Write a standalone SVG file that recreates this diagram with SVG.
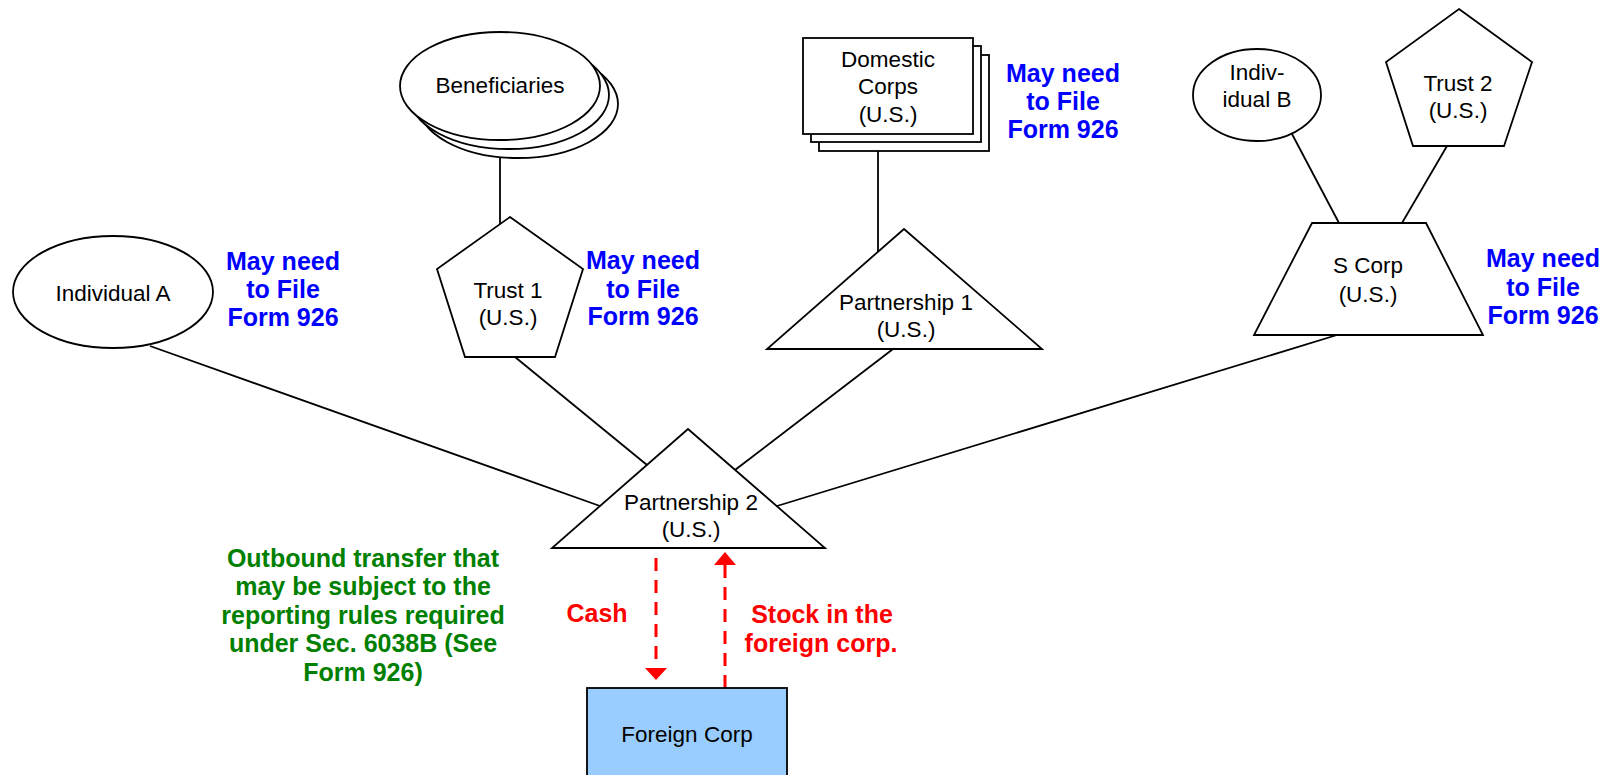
<svg xmlns="http://www.w3.org/2000/svg" width="1604" height="775" viewBox="0 0 1604 775">
<style>
.s{fill:#fff;stroke:#000;stroke-width:1.8}
.c{stroke:#000;stroke-width:1.8;fill:none}
.t{font-family:"Liberation Sans",Arial,sans-serif;font-size:22.5px;fill:#000;text-anchor:middle}
.b{font-family:"Liberation Sans",Arial,sans-serif;font-size:25px;font-weight:bold;fill:#0000ff;text-anchor:middle}
.g{font-family:"Liberation Sans",Arial,sans-serif;font-size:25px;font-weight:bold;fill:#008000;text-anchor:middle}
.r{font-family:"Liberation Sans",Arial,sans-serif;font-size:25px;font-weight:bold;fill:#ff0000;text-anchor:middle}
.d{stroke:#ff0000;stroke-width:3;stroke-dasharray:13 9;fill:none}
.ah{fill:#ff0000}
</style>
<rect width="1604" height="775" fill="#fff"/>
<g id="connectors">
<line class="c" x1="500" y1="158" x2="500" y2="224"/>
<line class="c" x1="878" y1="151" x2="878" y2="252"/>
<line class="c" x1="1292" y1="134" x2="1339" y2="223"/>
<line class="c" x1="1447" y1="146" x2="1402" y2="223"/>
<line class="c" x1="150" y1="346" x2="600" y2="506"/>
<line class="c" x1="515" y1="357" x2="647" y2="465"/>
<line class="c" x1="893" y1="349" x2="735" y2="470"/>
<line class="c" x1="1337" y1="335" x2="777" y2="506"/>
<line class="d" x1="656" y1="558" x2="656" y2="668"/>
<polygon class="ah" points="645,668 667,668 656,680"/>
<line class="d" x1="725" y1="688" x2="725" y2="565"/>
<polygon class="ah" points="714,565 736,565 725,552"/>
</g>
<g id="individual-a">
<ellipse class="s" cx="113" cy="292" rx="100" ry="56"/>
<text class="t" x="113" y="301">Individual A</text>
</g>
<g id="beneficiaries">
<ellipse class="s" cx="518" cy="104" rx="100" ry="54"/>
<ellipse class="s" cx="509" cy="95" rx="100" ry="54"/>
<ellipse class="s" cx="500" cy="86" rx="100" ry="54"/>
<text class="t" x="500" y="93">Beneficiaries</text>
</g>
<g id="trust-1">
<polygon class="s" points="510,217 583,269 555,357 465,357 437,269"/>
<text class="t" x="508" y="298">Trust 1</text>
<text class="t" x="508" y="325">(U.S.)</text>
</g>
<g id="domestic-corps">
<rect class="s" x="819" y="55" width="170" height="96"/>
<rect class="s" x="811" y="46" width="170" height="96"/>
<rect class="s" x="803" y="38" width="170" height="96"/>
<text class="t" x="888" y="67">Domestic</text>
<text class="t" x="888" y="94">Corps</text>
<text class="t" x="888" y="122">(U.S.)</text>
</g>
<g id="partnership-1">
<polygon class="s" points="904,229 1042,349 767,349"/>
<text class="t" x="906" y="310">Partnership 1</text>
<text class="t" x="906" y="337">(U.S.)</text>
</g>
<g id="individual-b">
<ellipse class="s" cx="1257" cy="95" rx="64" ry="46"/>
<text class="t" x="1257" y="80">Indiv-</text>
<text class="t" x="1257" y="107">idual B</text>
</g>
<g id="trust-2">
<polygon class="s" points="1459,9 1532,62 1504,146 1413,146 1386,62"/>
<text class="t" x="1458" y="91">Trust 2</text>
<text class="t" x="1458" y="118">(U.S.)</text>
</g>
<g id="s-corp">
<polygon class="s" points="1312,223 1426,223 1483,335 1254,335"/>
<text class="t" x="1368" y="273">S Corp</text>
<text class="t" x="1368" y="302">(U.S.)</text>
</g>
<g id="partnership-2">
<polygon class="s" points="688,429 825,548 552,548"/>
<text class="t" x="691" y="510">Partnership 2</text>
<text class="t" x="691" y="537">(U.S.)</text>
</g>
<g id="foreign-corp">
<rect x="587" y="688" width="200" height="100" fill="#99ccff" stroke="#000" stroke-width="1.8"/>
<text class="t" x="687" y="742">Foreign Corp</text>
</g>
<g id="labels">
<text class="b" x="283" y="270">May need</text>
<text class="b" x="283" y="298">to File</text>
<text class="b" x="283" y="326">Form 926</text>
<text class="b" x="643" y="269">May need</text>
<text class="b" x="643" y="298">to File</text>
<text class="b" x="643" y="325">Form 926</text>
<text class="b" x="1063" y="82">May need</text>
<text class="b" x="1063" y="110">to File</text>
<text class="b" x="1063" y="138">Form 926</text>
<text class="b" x="1543" y="267">May need</text>
<text class="b" x="1543" y="296">to File</text>
<text class="b" x="1543" y="324">Form 926</text>
<text class="g" x="363" y="567">Outbound transfer that</text>
<text class="g" x="363" y="595">may be subject to the</text>
<text class="g" x="363" y="624">reporting rules required</text>
<text class="g" x="363" y="652">under Sec. 6038B (See</text>
<text class="g" x="363" y="681">Form 926)</text>
<text class="r" x="597" y="622">Cash</text>
<text class="r" x="822" y="623">Stock in the</text>
<text class="r" x="821" y="652">foreign corp.</text>
</g>
</svg>
